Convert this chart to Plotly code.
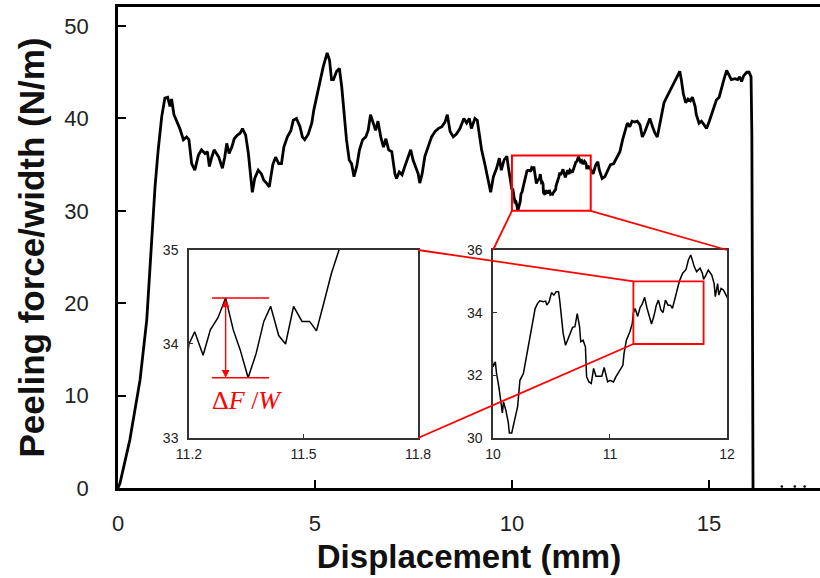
import plotly.graph_objects as go

# ---------------- data ----------------
# initial loading + plateau up to 10 mm
disp_a = [0, 0.05, 0.30, 0.56, 0.73, 0.85, 0.94, 1.02, 1.11, 1.19, 1.26, 1.32, 1.36, 1.42, 1.51, 1.57, 1.66, 1.74, 1.80, 1.87,
          1.95, 2.04, 2.12, 2.21, 2.27, 2.32, 2.38, 2.44, 2.50, 2.56, 2.65, 2.71, 2.76, 2.82, 2.89, 2.95, 3.03, 3.10, 3.16, 3.24,
          3.31, 3.37, 3.41, 3.47, 3.56, 3.64, 3.70, 3.77, 3.84, 3.93, 4.00, 4.08, 4.15, 4.21, 4.30, 4.39, 4.45, 4.53, 4.62, 4.68,
          4.74, 4.83, 4.92, 4.97, 5.06, 5.13, 5.21, 5.31, 5.37, 5.42, 5.47, 5.55, 5.62, 5.68, 5.74, 5.80, 5.87, 5.93, 5.99, 6.06,
          6.13, 6.21, 6.29, 6.35, 6.41, 6.48, 6.54, 6.60, 6.67, 6.74, 6.80, 6.87, 6.95, 7.03, 7.07, 7.14, 7.21, 7.28, 7.37, 7.43,
          7.49, 7.56, 7.62, 7.66, 7.72, 7.79, 7.88, 7.96, 8.05, 8.13, 8.22, 8.30, 8.36, 8.43, 8.51, 8.59, 8.68, 8.78, 8.85, 8.92,
          8.97, 9.06, 9.12, 9.17, 9.23, 9.31, 9.40, 9.46, 9.53, 9.61, 9.68, 9.73, 9.80, 9.87, 9.92, 9.97]
force_a = [0, 0.5, 5.2, 11.7, 18.2, 26.1, 32.6, 36.6, 40.2, 42.2, 42.3, 41.3, 42.1, 40.4, 39.6, 38.9, 37.7, 38.0, 37.7, 35.1,
           34.4, 36.0, 36.6, 36.2, 36.4, 34.8, 35.8, 36.6, 36.2, 35.8, 34.6, 35.8, 37.3, 36.2, 36.9, 37.8, 38.2, 38.4, 38.9, 38.2,
           36.2, 33.3, 32.0, 33.5, 34.4, 34.0, 33.3, 33.0, 32.6, 35.0, 35.8, 35.1, 35.1, 36.9, 38.0, 38.7, 39.8, 40.0, 39.1, 38.0,
           37.7, 38.3, 39.5, 40.9, 42.7, 44.2, 45.6, 47.1, 46.3, 44.2, 44.2, 45.1, 45.4, 43.4, 40.2, 37.7, 35.5, 35.1, 33.7, 34.8,
           36.6, 37.7, 38.0, 38.7, 40.4, 39.5, 38.7, 39.7, 38.0, 36.9, 37.8, 36.6, 36.4, 34.0, 33.5, 34.2, 33.9, 34.8, 35.9, 36.6,
           35.5, 34.8, 34.0, 33.0, 34.0, 35.9, 36.9, 38.0, 38.6, 38.9, 39.1, 39.6, 40.4, 38.6, 38.0, 38.3, 38.9, 40.0, 39.5, 40.0,
           38.9, 40.0, 39.8, 38.4, 36.6, 35.1, 33.0, 32.0, 33.7, 34.6, 35.7, 34.4, 35.5, 35.9, 34.4, 33.3]

# zoomed region 10-12 mm
disp_b = [10.00, 10.02, 10.03, 10.05, 10.06, 10.08, 10.09, 10.11, 10.13, 10.14, 10.16, 10.18, 10.19, 10.21, 10.23, 10.26,
          10.28, 10.30, 10.32, 10.34, 10.36, 10.38, 10.40, 10.43, 10.45, 10.46, 10.48, 10.50, 10.52, 10.54, 10.56, 10.57,
          10.58, 10.60, 10.62, 10.64, 10.66, 10.68, 10.70, 10.72, 10.74, 10.75, 10.77, 10.79, 10.80, 10.82, 10.84, 10.86,
          10.88, 10.90, 10.93, 10.95, 10.96, 10.98, 11.00, 11.03, 11.05, 11.08, 11.11, 11.12, 11.14, 11.17, 11.19,
          11.200, 11.215, 11.237, 11.256, 11.276, 11.296, 11.316, 11.334, 11.355, 11.376, 11.396, 11.414, 11.435, 11.453,
          11.474, 11.496, 11.516, 11.534, 11.554, 11.573, 11.593,
          11.62, 11.65, 11.67, 11.69, 11.70, 11.72, 11.74, 11.77, 11.79, 11.80, 11.82, 11.84, 11.87, 11.89, 11.90, 11.92,
          11.93, 11.95, 11.97, 12.00]
force_b = [32.27, 32.43, 32.06, 31.63, 31.31, 30.80, 31.15, 30.88, 30.51, 30.16, 30.16, 30.51, 30.67, 30.99, 31.84, 32.06,
           32.48, 32.91, 33.33, 33.65, 34.13, 34.29, 34.38, 34.35, 34.37, 34.24, 34.35, 34.64, 34.56, 34.67, 34.67, 34.40,
           33.97, 33.33, 32.96, 33.17, 33.33, 33.53, 33.55, 33.97, 33.55, 33.07, 33.12, 32.91, 31.95, 31.79, 31.74, 32.22,
           31.97, 31.97, 31.97, 32.25, 32.11, 31.79, 31.84, 31.79, 31.95, 32.16, 32.32, 32.70, 33.12, 33.39, 33.65,
           34.00, 34.13, 33.88, 34.15, 34.28, 34.49, 34.15, 33.94, 33.64, 33.90, 34.24, 34.40, 34.09, 34.00,
           34.40, 34.24, 34.24, 34.14, 34.45, 34.75, 35.00,
           35.25, 35.38, 35.68, 35.84, 35.73, 35.47, 35.31, 35.42, 35.25, 35.06, 35.20, 35.36, 35.20, 34.93, 34.51, 34.93,
           34.56, 34.77, 34.72, 34.50]

# after 12 mm until failure
disp_c = [12.06, 12.13, 12.18, 12.22, 12.29, 12.36, 12.43, 12.50, 12.58, 12.66, 12.74, 12.81, 12.87, 12.93, 12.99, 13.05,
          13.12, 13.18, 13.25, 13.31, 13.37, 13.43, 13.50, 13.57, 13.63, 13.69, 13.74, 13.80, 13.86, 13.93, 13.99, 14.07,
          14.13, 14.20, 14.26, 14.30, 14.35, 14.41, 14.47, 14.53, 14.58, 14.65, 14.68, 14.75, 14.81, 14.88, 14.94, 15.01,
          15.07, 15.13, 15.19, 15.26, 15.32, 15.38, 15.45, 15.51, 15.57, 15.66, 15.73, 15.78, 15.83, 15.88, 15.96, 16.02,
          16.07, 16.09, 16.10, 16.12]
force_c = [34.0, 35.0, 35.3, 34.4, 33.5, 33.7, 34.4, 35.0, 35.1, 35.7, 36.4, 37.7, 38.7, 39.5, 39.1, 39.7,
           39.6, 39.7, 39.3, 38.0, 38.5, 39.3, 40.0, 39.1, 38.4, 38.0, 39.1, 40.6, 41.7, 42.3, 42.8, 43.4,
           43.9, 44.5, 45.1, 44.2, 42.7, 41.7, 42.1, 41.9, 42.3, 41.3, 40.4, 39.5, 39.7, 39.3, 38.9, 39.7,
           40.4, 41.3, 42.0, 42.3, 43.4, 44.2, 45.2, 44.7, 44.2, 44.3, 44.2, 44.5, 44.0, 44.6, 45.0, 45.0,
           44.5, 38.3, 20.0, 0.0]

# residual points after failure
tail_disp = [16.85, 17.18, 17.43]
tail_force = [0.15, 0.15, 0.15]

disp = disp_a + disp_b + disp_c
force = force_a + force_b + force_c

# ticks
main_xticks = [0, 5, 10, 15]
main_yticks = [0, 10, 20, 30, 40, 50]
ins2_xticks = [10, 11, 12]
ins2_yticks = [30, 32, 34, 36]
ins1_xticks = [11.2, 11.5, 11.8]
ins1_xticklabels = ["11.2", "11.5", "11.8"]
ins1_yticks = [33, 34, 35]

# zoom windows
box1_x, box1_y = [10, 12], [30, 36]          # main -> inset 2
box2_x, box2_y = [11.2, 11.8], [33, 35]      # inset 2 -> inset 1

# delta F/W marks: peak and valley inside inset 1
peak_x = 11.296
valley_x = 11.355
peak_f = force[disp.index(peak_x)]
valley_f = force[disp.index(valley_x)]
bracket_x = [11.26, 11.41]

# ---------------- layout geometry ----------------
W, H = 820, 578
ML, MR, MT, MB = 118, 0, 7, 90
main_xr = [0, 17.82]
main_yr = [0, 52.06]
ins1_dx, ins1_dy = [0.1011, 0.4274], [0.1040, 0.4948]
ins2_dx, ins2_dy = [0.5342, 0.8675], [0.1040, 0.4948]

FONT = "Liberation Sans, Arial, sans-serif"
RED = "#FF0000"

fig = go.Figure()
fig.add_trace(go.Scatter(x=disp, y=force, mode="lines", line=dict(color="black", width=2.8),
                         xaxis="x", yaxis="y", showlegend=False, hoverinfo="skip"))
fig.add_trace(go.Scatter(x=tail_disp, y=tail_force, mode="markers", marker=dict(color="black", size=2.5),
                         xaxis="x", yaxis="y", showlegend=False, hoverinfo="skip"))
fig.add_trace(go.Scatter(x=disp, y=force, mode="lines", line=dict(color="black", width=1.5),
                         xaxis="x2", yaxis="y2", showlegend=False, hoverinfo="skip"))
fig.add_trace(go.Scatter(x=disp, y=force, mode="lines", line=dict(color="black", width=1.5),
                         xaxis="x3", yaxis="y3", showlegend=False, hoverinfo="skip"))

main_ax = dict(showgrid=False, zeroline=False, showline=True, linecolor="black", linewidth=2.5,
               ticks="inside", ticklen=8, tickwidth=2, tickcolor="black",
               tickfont=dict(family=FONT, size=22, color="#222"), automargin=False)
ins_ax = dict(showgrid=False, zeroline=False, showline=True, linecolor="#333", linewidth=1.5, mirror=True,
              ticks="inside", ticklen=4, tickwidth=1.2, tickcolor="#333",
              tickfont=dict(family=FONT, size=14, color="#222"), automargin=False)

fig.update_layout(
    width=W, height=H, margin=dict(l=ML, r=MR, t=MT, b=MB),
    paper_bgcolor="white", plot_bgcolor="white",
    xaxis=dict(**main_ax, range=main_xr, tickvals=main_xticks, mirror=True, ticklabelstandoff=14,
               title=dict(text="<b>Displacement (mm)</b>", font=dict(family=FONT, size=33, color="#111"), standoff=10)),
    yaxis=dict(**main_ax, range=main_yr, tickvals=main_yticks, ticklabelstandoff=22,
               title=dict(text="<b>Peeling force/width (N/m)</b>", font=dict(family=FONT, size=35, color="#111"), standoff=10)),
    xaxis2=dict(**ins_ax, domain=ins1_dx, anchor="y2", range=[ins1_xticks[0], ins1_xticks[-1]],
                tickvals=ins1_xticks, ticktext=ins1_xticklabels, ticklabelstandoff=2),
    yaxis2=dict(**ins_ax, domain=ins1_dy, anchor="x2", range=[ins1_yticks[0], ins1_yticks[-1]],
                tickvals=ins1_yticks, ticklabelstandoff=6),
    xaxis3=dict(**ins_ax, domain=ins2_dx, anchor="y3", range=[ins2_xticks[0], ins2_xticks[-1]],
                tickvals=ins2_xticks, ticklabelstandoff=2),
    yaxis3=dict(**ins_ax, domain=ins2_dy, anchor="x3", range=[ins2_yticks[0], ins2_yticks[-1]],
                tickvals=ins2_yticks, ticklabelstandoff=6),
)


def to_paper(x, y, xr, yr, dx, dy):
    px = dx[0] + (x - xr[0]) / (xr[1] - xr[0]) * (dx[1] - dx[0])
    py = dy[0] + (y - yr[0]) / (yr[1] - yr[0]) * (dy[1] - dy[0])
    return px, py


def main_p(x, y):
    return to_paper(x, y, main_xr, main_yr, [0, 1], [0, 1])


def ins1_p(x, y):
    return to_paper(x, y, [ins1_xticks[0], ins1_xticks[-1]], [ins1_yticks[0], ins1_yticks[-1]], ins1_dx, ins1_dy)


def ins2_p(x, y):
    return to_paper(x, y, [ins2_xticks[0], ins2_xticks[-1]], [ins2_yticks[0], ins2_yticks[-1]], ins2_dx, ins2_dy)


shapes = []
# zoom boxes
shapes.append(dict(type="rect", xref="x", yref="y", x0=box1_x[0], x1=box1_x[1], y0=box1_y[0], y1=box1_y[1],
                   line=dict(color=RED, width=2)))
shapes.append(dict(type="rect", xref="x3", yref="y3", x0=box2_x[0], x1=box2_x[1], y0=box2_y[0], y1=box2_y[1],
                   line=dict(color=RED, width=1.8)))
# connectors
pairs = [
    (main_p(box1_x[0], box1_y[0]), ins2_p(box1_x[0], box1_y[1])),
    (main_p(box1_x[1], box1_y[0]), ins2_p(box1_x[1], box1_y[1])),
    (ins2_p(box2_x[0], box2_y[1]), ins1_p(box2_x[1], box2_y[1])),
    (ins2_p(box2_x[0], box2_y[0]), ins1_p(box2_x[1], box2_y[0])),
]
for (a, b) in pairs:
    shapes.append(dict(type="line", xref="paper", yref="paper", x0=a[0], y0=a[1], x1=b[0], y1=b[1],
                       line=dict(color=RED, width=1.8)))
# delta F/W brackets
for f in (peak_f, valley_f):
    shapes.append(dict(type="line", xref="x2", yref="y2", x0=bracket_x[0], x1=bracket_x[1], y0=f, y1=f,
                       line=dict(color=RED, width=1.5)))
fig.update_layout(shapes=shapes)

fig.add_annotation(x=peak_x, y=valley_f, ax=peak_x, ay=peak_f, xref="x2", yref="y2", axref="x2", ayref="y2",
                   text="", showarrow=True, arrowhead=2, arrowside="end+start", arrowsize=1.1,
                   arrowwidth=1.4, arrowcolor=RED)
fig.add_annotation(x=11.352, y=33.40, xref="x2", yref="y2", showarrow=False,
                   text="Δ<i>F</i> /<i>W</i>", font=dict(family="Liberation Serif, DejaVu Serif, serif", size=26, color=RED))

fig.write_html("out.html")
